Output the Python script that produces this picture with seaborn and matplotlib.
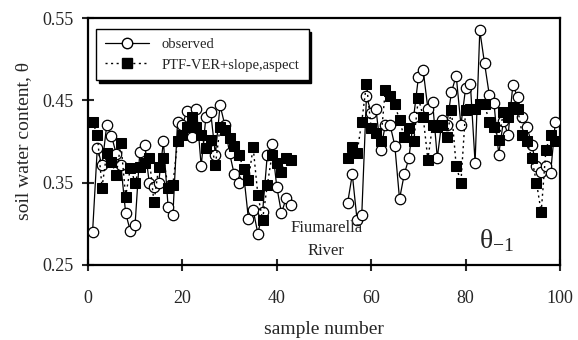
import numpy as np
import pandas as pd
import matplotlib
matplotlib.use("Agg")
import matplotlib.pyplot as plt
import seaborn as sns
from matplotlib.lines import Line2D

# ---- data ----
samples_a = list(range(1, 44))
observed_a = [0.290, 0.392, 0.371, 0.420, 0.407, 0.385, 0.371, 0.313, 0.291, 0.299,
              0.387, 0.396, 0.350, 0.345, 0.350, 0.400, 0.320, 0.310, 0.424, 0.420,
              0.437, 0.405, 0.440, 0.370, 0.430, 0.436, 0.384, 0.444, 0.420, 0.386,
              0.360, 0.350, 0.360, 0.306, 0.317, 0.288, 0.314, 0.384, 0.397, 0.345,
              0.313, 0.331, 0.323]
ptf_a = [0.424, 0.408, 0.344, 0.386, 0.375, 0.359, 0.398, 0.333, 0.368, 0.350,
         0.369, 0.374, 0.380, 0.326, 0.369, 0.380, 0.344, 0.347, 0.400, 0.408,
         0.418, 0.430, 0.418, 0.408, 0.392, 0.402, 0.371, 0.418, 0.414, 0.404,
         0.395, 0.384, 0.366, 0.353, 0.393, 0.335, 0.305, 0.347, 0.384, 0.374,
         0.363, 0.380, 0.378]

samples_b = list(range(55, 100))
observed_b = [0.325, 0.360, 0.305, 0.310, 0.455, 0.435, 0.440, 0.390, 0.420, 0.420,
              0.395, 0.330, 0.360, 0.380, 0.430, 0.478, 0.487, 0.440, 0.448, 0.380,
              0.426, 0.420, 0.460, 0.480, 0.420, 0.465, 0.470, 0.374, 0.535, 0.495,
              0.457, 0.447, 0.384, 0.425, 0.408, 0.469, 0.454, 0.430, 0.418, 0.396,
              0.370, 0.363, 0.370, 0.362, 0.424]
ptf_b = [0.380, 0.393, 0.386, 0.424, 0.470, 0.416, 0.410, 0.400, 0.463, 0.455,
         0.445, 0.426, 0.405, 0.416, 0.400, 0.453, 0.430, 0.378, 0.420, 0.418,
         0.420, 0.405, 0.438, 0.370, 0.350, 0.438, 0.440, 0.440, 0.445, 0.445,
         0.424, 0.418, 0.402, 0.436, 0.430, 0.442, 0.440, 0.408, 0.400, 0.380,
         0.350, 0.314, 0.390, 0.408, 0.400]

x_ticks = [0, 20, 40, 60, 80, 100]
y_ticks = [0.25, 0.35, 0.45, 0.55]

df = pd.concat([
    pd.DataFrame({"sample": samples_a, "observed": observed_a, "ptf": ptf_a, "seg": "a"}),
    pd.DataFrame({"sample": samples_b, "observed": observed_b, "ptf": ptf_b, "seg": "b"}),
])

sns.set_style("ticks")
plt.rcParams["font.family"] = ["Liberation Serif", "DejaVu Serif"]
plt.rcParams["mathtext.default"] = "regular"

fig = plt.figure(figsize=(5.78, 3.4), dpi=100)
ax = fig.add_axes([0.152, 0.221, 0.817, 0.726])

for seg, d in df.groupby("seg"):
    sns.lineplot(data=d, x="sample", y="observed", ax=ax, color="black", lw=0.9,
                 marker="o", markersize=7.5, markerfacecolor="white",
                 markeredgecolor="black", markeredgewidth=0.9, estimator=None,
                 sort=False, zorder=3)
for seg, d in df.groupby("seg"):
    sns.lineplot(data=d, x="sample", y="ptf", ax=ax, color="black", lw=1.0,
                 linestyle=(0, (1.5, 2.5)), marker="s", markersize=7,
                 markerfacecolor="black", markeredgecolor="black",
                 estimator=None, sort=False, zorder=4)

ax.set_xlim(0, 100)
ax.set_ylim(0.25, 0.55)
ax.set_xticks(x_ticks)
ax.set_yticks(y_ticks)
ax.set_xticklabels([str(t) for t in x_ticks])
ax.set_yticklabels([f"{t:.2f}" for t in y_ticks])
ax.tick_params(direction="inout", length=8, width=1.5, labelsize=13, pad=6)
ax.tick_params(axis="x", pad=14)
for s in ax.spines.values():
    s.set_visible(True)
    s.set_linewidth(1.6)
    s.set_color("black")

ax.set_xlabel("sample number", fontsize=14, labelpad=10)
ax.set_ylabel("soil water content, θ", fontsize=14, labelpad=8)

ax.text(50.5, 0.281, "Fiumarella\nRiver", ha="center", va="center",
        fontsize=12, linespacing=1.6)
ax.text(86.5, 0.28, "$θ_{-1}$", ha="center", va="center", fontsize=20)

handles = [
    Line2D([], [], color="black", lw=0.9, marker="o", markersize=7.5,
           markerfacecolor="white", markeredgecolor="black"),
    Line2D([], [], color="black", lw=1.0, linestyle=(0, (1.5, 2.5)), marker="s",
           markersize=7, markerfacecolor="black"),
]
leg = ax.legend(handles, ["observed", "PTF-VER+slope,aspect"], loc="upper left",
                bbox_to_anchor=(0.018, 0.955), borderaxespad=0, fontsize=10.5,
                frameon=True, fancybox=False, edgecolor="black",
                shadow={"color": "black", "alpha": 1.0},
                handlelength=3.0, labelspacing=0.5, borderpad=0.6,
                handletextpad=0.9)
leg.get_frame().set_linewidth(1.0)
leg.get_frame().set_alpha(1)
leg.set_zorder(10)

fig.savefig("out.png", dpi=100)
